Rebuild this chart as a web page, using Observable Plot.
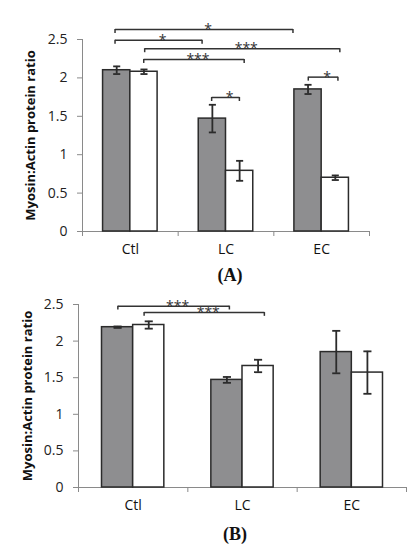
<!DOCTYPE html>
<html>
<head>
<meta charset="utf-8">
<script src="https://cdn.jsdelivr.net/npm/d3@7"></script>
<script src="https://cdn.jsdelivr.net/npm/@observablehq/plot@0.6"></script>
<style>
  body { margin: 0; background: #fff; }
  #chart { width: 414px; }
  .panel-label {
    font-family: "Liberation Serif", serif;
    font-weight: bold;
    font-size: 18px;
    text-align: center;
    color: #111;
  }
</style>
</head>
<body>
<div id="chart"></div>
<script>
const categories = ["Ctl", "LC", "EC"];
const yTicks = [0, 0.5, 1, 1.5, 2, 2.5];
const yLabel = "Myosin:Actin protein ratio";

// panel A : grey = first series, white = second series
const darkA = [2.10, 1.47, 1.85];
const darkErrA = [0.05, 0.18, 0.06];
const whiteA = [2.08, 0.79, 0.70];
const whiteErrA = [0.03, 0.13, 0.03];
// significance brackets A (x in category units)
const fromA = [-0.16, -0.16, 0.15, 0.14, 0.85, 1.86];
const toA = [1.70, 0.75, 2.19, 1.19, 1.14, 2.17];
const levelA = [2.63, 2.49, 2.38, 2.24, 1.745, 2.01];
const starsA = ["*", "*", "***", "***", "*", "*"];

// panel B
const darkB = [2.19, 1.47, 1.85];
const darkErrB = [0.01, 0.04, 0.29];
const whiteB = [2.22, 1.66, 1.57];
const whiteErrB = [0.05, 0.085, 0.29];
const fromB = [-0.14, 0.10];
const toB = [0.88, 1.20];
const levelB = [2.477, 2.39];
const starsB = ["***", "***"];

const barW = 0.285;
const cap = 0.037;

function panel(o) {
  const rows = [];
  categories.forEach((c, i) => {
    rows.push({cat: c, group: "dark", x1: i - barW, x2: i, value: o.dark[i], err: o.darkErr[i]});
    rows.push({cat: c, group: "white", x1: i, x2: i + barW, value: o.white[i], err: o.whiteErr[i]});
  });
  const brackets = o.from.map((f, k) => ({from: f, to: o.to[k], level: o.level[k], label: o.stars[k]}));
  const mid = d => (d.x1 + d.x2) / 2;
  const tick = 0.052;

  return Plot.plot({
    width: 414,
    height: o.height,
    marginLeft: o.marginLeft,
    marginRight: o.marginRight,
    marginTop: o.marginTop,
    marginBottom: o.marginBottom,
    x: {domain: [-0.5, 2.5]},
    y: {domain: [0, 2.5]},
    style: {fontFamily: "Open Sans", fontSize: 14, color: "#222", background: "white"},
    marks: [
      Plot.ruleY([0], {stroke: "#8a8a8a"}),
      Plot.ruleX([-0.5], {stroke: "#8a8a8a"}),
      Plot.axisY({
        ticks: yTicks, tickSize: 5, tickPadding: 10,
        tickFormat: d => String(d),
        stroke: "#8a8a8a", fill: "#222", label: null, fontSize: 14
      }),
      Plot.axisX({
        ticks: [-0.5, 0.5, 1.5, 2.5], tickSize: 5,
        tickFormat: () => "", stroke: "#8a8a8a", label: null
      }),
      Plot.axisX({
        ticks: [0, 1, 2], tickSize: 0, tickPadding: 13,
        tickFormat: i => categories[i], fill: "#111", label: null, fontSize: 14
      }),
      Plot.text([yLabel], {
        frameAnchor: "left", textAnchor: "middle", rotate: -90, dx: o.labelDx,
        fontWeight: "bold", fontSize: 13, fill: "#111"
      }),
      Plot.rect(rows, {
        x1: "x1", x2: "x2", y1: 0, y2: "value",
        fill: d => d.group === "dark" ? "#8e8e90" : "white",
        stroke: "#2b2b2b", strokeWidth: 1.5
      }),
      // error bars
      Plot.ruleX(rows, {
        x: mid, y1: d => d.value - d.err, y2: d => d.value + d.err,
        stroke: "#2b2b2b", strokeWidth: 1.8
      }),
      Plot.link(rows, {
        x1: d => mid(d) - cap, x2: d => mid(d) + cap,
        y1: d => d.value + d.err, y2: d => d.value + d.err,
        stroke: "#2b2b2b", strokeWidth: 1.8
      }),
      Plot.link(rows, {
        x1: d => mid(d) - cap, x2: d => mid(d) + cap,
        y1: d => d.value - d.err, y2: d => d.value - d.err,
        stroke: "#2b2b2b", strokeWidth: 1.8
      }),
      // brackets
      Plot.link(brackets, {
        x1: "from", x2: "to", y1: "level", y2: "level",
        stroke: "#333", strokeWidth: 1.5
      }),
      Plot.ruleX(brackets, {x: "from", y1: d => d.level - tick, y2: "level", stroke: "#333", strokeWidth: 1.5}),
      Plot.ruleX(brackets, {x: "to", y1: d => d.level - tick, y2: "level", stroke: "#333", strokeWidth: 1.5}),
      Plot.text(brackets, {
        x: d => (d.from + d.to) / 2, y: "level", text: "label",
        dx: 4, fontSize: 14, fill: "#333"
      })
    ]
  });
}

const chartA = panel({
  dark: darkA, darkErr: darkErrA, white: whiteA, whiteErr: whiteErrA,
  from: fromA, to: toA, level: levelA, stars: starsA,
  height: 262, marginTop: 39, marginBottom: 31, marginLeft: 82, marginRight: 45, labelDx: -52
});
const chartB = panel({
  dark: darkB, darkErr: darkErrB, white: whiteB, whiteErr: whiteErrB,
  from: fromB, to: toB, level: levelB, stars: starsB,
  height: 229, marginTop: 16, marginBottom: 30, marginLeft: 78, marginRight: 8, labelDx: -51
});

const root = d3.select('#chart');
root.append(() => chartA);
root.append('div').attr('class', 'panel-label')
  .style('height', '26px').style('line-height', '26px').style('padding-left', '46px')
  .text('(A)');
root.append(() => chartB);
root.append('div').attr('class', 'panel-label')
  .style('height', '34px').style('line-height', '34px').style('padding-left', '56px')
  .text('(B)');
</script>
</body>
</html>
